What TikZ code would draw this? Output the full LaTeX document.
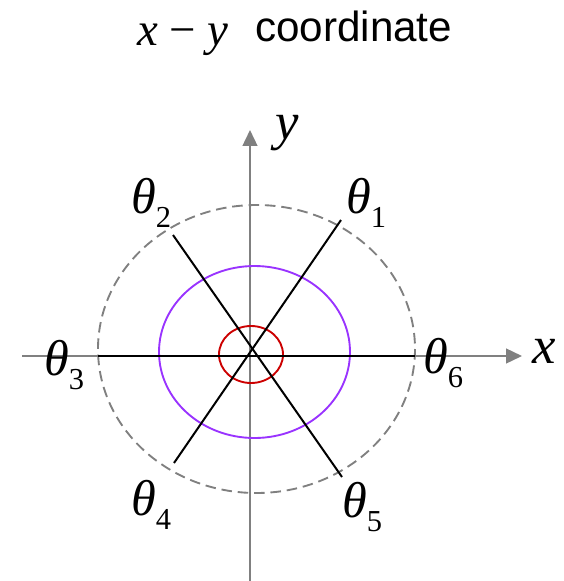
\documentclass[tikz,border=0pt]{standalone}
\usepackage{fontspec}
\setmainfont{Liberation Serif}
\newfontfamily\arialfont{Liberation Sans}
\usetikzlibrary{arrows.meta}

\definecolor{axisgray}{RGB}{128,128,128}
\definecolor{ringred}{RGB}{204,0,0}
\definecolor{ringviolet}{RGB}{153,51,255}

% angle label: italic theta with a lowered digit
\newcommand{\anglab}[1]{\textit{θ}\raisebox{-12pt}{\fontsize{26}{26}\selectfont #1}}

\begin{document}
\begin{tikzpicture}[x=0.03cm, y=-0.03cm,
    axis/.style={axisgray, line width=1.7pt, -{Triangle[length=13.5pt,width=12.5pt]}},
    spoke/.style={black, line width=1.7pt},
    ring/.style={line width=1.6pt},
    lab/.style={inner sep=0pt, anchor=base west, font=\fontsize{43}{44}\selectfont},
    axlab/.style={inner sep=0pt, anchor=base west, font=\fontsize{45}{46}\selectfont\itshape}
]
\useasboundingbox (0,0) rectangle (564,581);

% title
\node[inner sep=0pt, anchor=base west, font=\fontsize{40}{42}\selectfont] (titlemath) at (137,45) {\textit{x} − \textit{y}};
\node[inner sep=0pt, anchor=base west, font=\fontsize{36}{38}\selectfont\arialfont] (titletext) at (255,41) {coordinate};

% axes
\coordinate (xstart) at (22,356);
\coordinate (xend) at (522,356);
\coordinate (ystart) at (250,581);
\coordinate (yend) at (250,130);
\draw[axis] (xstart) -- (xend);
\draw[axis] (ystart) -- (yend);
\node[axlab] (xlab) at (532,363) {x};
\node[axlab] (ylab) at (275,139) {y};

% rings
\draw[ring, axisgray, dash pattern=on 9pt off 5pt] (256.5,349) ellipse [x radius=158.5, y radius=144];
\draw[ring, ringviolet] (254.5,352) ellipse [x radius=95.5, y radius=86];
\draw[ring, ringred] (251,354.5) ellipse [x radius=32, y radius=28.5];

% spokes
\coordinate (e1) at (341,220);
\coordinate (e2) at (173,235);
\coordinate (e3) at (98,356);
\coordinate (e4) at (174,463);
\coordinate (e5) at (342,477);
\coordinate (e6) at (415,356);
\draw[spoke] (e3) -- (e6);
\draw[spoke] (e1) -- (e4);
\draw[spoke] (e2) -- (e5);

% angle labels
\node[lab] (t1) at (346,213) {\anglab{1}};
\node[lab] (t2) at (131,213) {\anglab{2}};
\node[lab] (t3) at (44,375) {\anglab{3}};
\node[lab] (t4) at (131,515) {\anglab{4}};
\node[lab] (t5) at (342,517) {\anglab{5}};
\node[lab] (t6) at (423,373) {\anglab{6}};

\end{tikzpicture}
\end{document}
